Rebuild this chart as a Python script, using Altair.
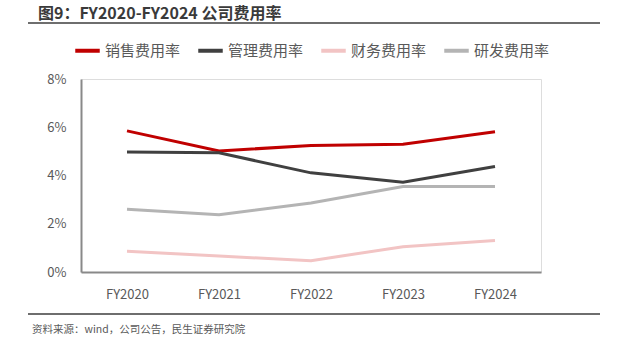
import altair as alt
import pandas as pd

years = ["FY2020", "FY2021", "FY2022", "FY2023", "FY2024"]
series_names = ["销售费用率", "管理费用率", "财务费用率", "研发费用率"]
sales = [5.85, 5.02, 5.24, 5.30, 5.81]
admin = [4.97, 4.94, 4.11, 3.72, 4.37]
finance = [0.86, 0.66, 0.47, 1.05, 1.31]
rnd = [2.60, 2.37, 2.86, 3.54, 3.54]
colors = ["#C00000", "#404040", "#F2C4C4", "#B4B4B4"]
title_text = "图9：FY2020-FY2024 公司费用率"
source_text = "资料来源：wind，公司公告，民生证券研究院"

rows = []
for name, vals in zip(series_names, [sales, admin, finance, rnd]):
    for y, v in zip(years, vals):
        rows.append({"year": y, "series": name, "value": v / 100})
df = pd.DataFrame(rows)

FONT = "Noto Sans CJK SC"

lines = alt.Chart(df).mark_line(strokeWidth=3).encode(
    x=alt.X("year:N", sort=years,
            scale=alt.Scale(paddingInner=0, paddingOuter=0),
            axis=alt.Axis(title=None, labelAngle=0, ticks=False, grid=False,
                          domainColor="#898989", domainWidth=2,
                          labelPadding=16, labelFontSize=13, labelColor="#595959",
                          labelFont=FONT)),
    y=alt.Y("value:Q", scale=alt.Scale(domain=[0, 0.08], nice=False),
            axis=alt.Axis(title=None, values=[0, 0.02, 0.04, 0.06, 0.08], format=".0%",
                          ticks=False, grid=False, domainColor="#898989", domainWidth=2,
                          labelPadding=15, labelFontSize=13, labelColor="#595959",
                          labelFont=FONT)),
    color=alt.Color("series:N", sort=series_names,
                    scale=alt.Scale(domain=series_names, range=colors),
                    legend=alt.Legend(title=None, orient="none", direction="horizontal",
                                      legendX=-8, legendY=-43, symbolType="stroke",
                                      symbolSize=600, symbolStrokeWidth=4,
                                      labelFontSize=15, labelColor="#595959", labelFont=FONT,
                                      columnPadding=9, labelOffset=3)),
    order=alt.Order("year:N"),
)

title = alt.Chart(pd.DataFrame({"t": [title_text]})).mark_text(
    align="left", baseline="alphabetic", fontSize=16, fontWeight="bold",
    color="#3A3A3A", font=FONT
).encode(text="t:N", x=alt.value(-43), y=alt.value(-60))

top_rule = alt.Chart(pd.DataFrame({"a": [0]})).mark_rule(
    color="#6E6E6E", strokeWidth=2
).encode(x=alt.value(-53), x2=alt.value(519), y=alt.value(-56))

bottom_rule = alt.Chart(pd.DataFrame({"a": [0]})).mark_rule(
    color="#6E6E6E", strokeWidth=2
).encode(x=alt.value(-53), x2=alt.value(519), y=alt.value(235))

source = alt.Chart(pd.DataFrame({"t": [source_text]})).mark_text(
    align="left", baseline="alphabetic", fontSize=10.5, color="#595959", font=FONT
).encode(text="t:N", x=alt.value(-49), y=alt.value(254))

chart = alt.layer(lines, title, top_rule, bottom_rule, source).properties(
    width=460, height=193,
    autosize=alt.AutoSizeParams(type="none"),
    padding={"left": 81, "top": 79, "right": 76, "bottom": 74},
).configure_view(stroke=None).configure(background="white")

chart.save("out.html", embed_options={"renderer": "svg", "actions": False})
